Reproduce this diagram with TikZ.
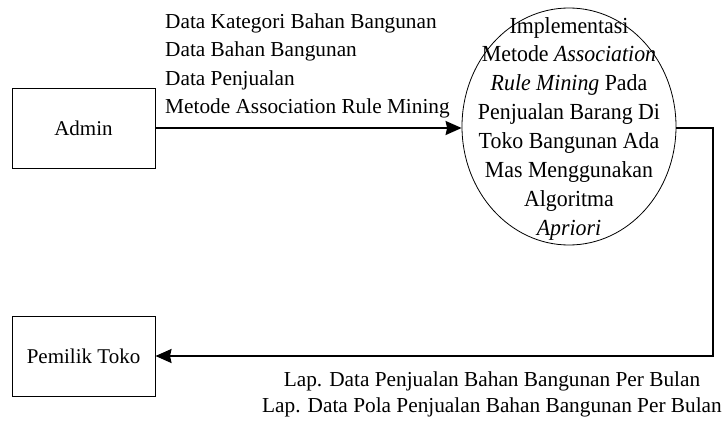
\documentclass[tikz,border=0pt]{standalone}
\usepackage{fontspec}
\setmainfont{Liberation Serif}
\newfontfamily\condfont[FakeStretch=0.95]{Liberation Serif}
\usetikzlibrary{shapes.geometric,arrows.meta}
\tikzset{
  txt/.style={inner sep=0pt, font=\fontsize{21.3}{25}\selectfont},
  ptxt/.style={inner sep=0pt, anchor=base, font=\condfont\fontsize{23}{27}\selectfont},
  box/.style={draw, line width=1pt, minimum width=143pt, minimum height=80pt, inner sep=0pt, font=\fontsize{21}{25}\selectfont},
  proc/.style={draw, ellipse, line width=0.8pt, minimum width=214pt, minimum height=237pt, inner sep=0pt},
  flow/.style={line width=1.8pt, -{Stealth[length=16pt,width=14pt,inset=1.5pt]}},
}
\begin{document}
\begin{tikzpicture}[x=1pt,y=-1pt]
\useasboundingbox (0,0) rectangle (728,423);
\node[box] (admin) at (83.5,128) {Admin};
\node[box] (pemilik) at (83.5,356) {Pemilik Toko};
\node[proc] (process) at (569,126.5) {};
% process text
\node[ptxt] (p1) at (569,33) {Implementasi};
\node[ptxt] (p2) at (569,61.9) {Metode \textit{Association}};
\node[ptxt] (p3) at (569,90.7) {\textit{Rule Mining} Pada};
\node[ptxt] (p4) at (569,119.6) {Penjualan Barang Di};
\node[ptxt] (p5) at (569,148.4) {Toko Bangunan Ada};
\node[ptxt] (p6) at (569,177.3) {Mas Menggunakan};
\node[ptxt] (p7) at (569,206.1) {Algoritma};
\node[ptxt] (p8) at (569,235) {\textit{Apriori}};
% input labels
\node[txt, anchor=base west] (l1) at (165,28) {Data Kategori Bahan Bangunan};
\node[txt, anchor=base west] (l2) at (165,56.5) {Data Bahan Bangunan};
\node[txt, anchor=base west] (l3) at (165,85) {Data Penjualan};
\node[txt, anchor=base west] (l4) at (165,113) {Metode Association Rule Mining};
% output labels
\node[txt, anchor=base] (o1) at (492,386) {Lap. Data Penjualan Bahan Bangunan Per Bulan};
\node[txt, anchor=base] (o2) at (492,412) {Lap. Data Pola Penjualan Bahan Bangunan Per Bulan};
% connectors
\draw[flow] (admin.east) -- (admin.east -| process.west);
\coordinate (corner) at (713,128);
\draw[flow] (process.east |- corner) -- (corner) |- (pemilik.east);
\end{tikzpicture}
\end{document}
